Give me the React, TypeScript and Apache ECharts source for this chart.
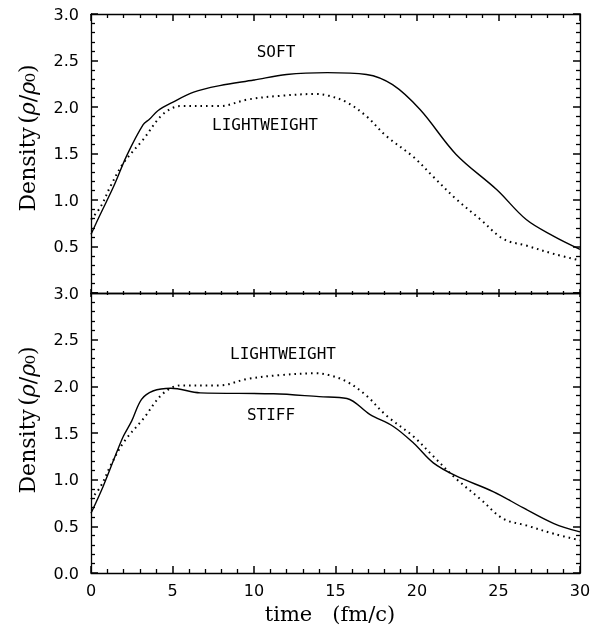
import React, { useEffect, useRef } from "react";
import * as echarts from "echarts";

// SOFT (top panel, solid)
const softTime = [0, 0.5, 1.4, 2.2, 3.2, 3.6, 4.1, 5.0, 6.3, 7.9, 10, 12, 14.5, 16.9, 18.5, 20.2, 22.4, 24.9, 26.7, 28.4, 30];
const softDensity = [0.63, 0.82, 1.15, 1.48, 1.81, 1.87, 1.96, 2.05, 2.16, 2.23, 2.29, 2.35, 2.37, 2.35, 2.24, 1.97, 1.49, 1.11, 0.79, 0.61, 0.47];

// LIGHTWEIGHT (both panels, dotted)
const lightTime = [0, 0.6, 1.2, 2.0, 3.2, 4.4, 5.5, 7.9, 9.6, 11.6, 13.8, 14.6, 15.7, 16.9, 18.1, 19.8, 21.0, 22.4, 23.9, 25.3, 26.7, 28.4, 30];
const lightDensity = [0.79, 0.93, 1.15, 1.4, 1.65, 1.92, 2.01, 2.01, 2.08, 2.12, 2.14, 2.12, 2.05, 1.9, 1.69, 1.46, 1.25, 1.01, 0.79, 0.58, 0.51, 0.42, 0.35];

// STIFF (bottom panel, solid)
const stiffTime = [0, 0.75, 1.57, 2.0, 2.5, 3.1, 3.8, 4.9, 6.7, 11.2, 14.0, 15.7, 17.1, 18.55, 19.8, 21.0, 22.4, 24.7, 26.5, 28.4, 30];
const stiffDensity = [0.64, 0.93, 1.29, 1.47, 1.63, 1.86, 1.95, 1.98, 1.93, 1.92, 1.89, 1.87, 1.7, 1.57, 1.39, 1.18, 1.04, 0.87, 0.7, 0.53, 0.44];

const xTicks = { min: 0, max: 30, interval: 5 };
const yTicks = { min: 0, max: 3, interval: 0.5 };

const pair = (t: number[], d: number[]) => t.map((v, i) => [v, d[i]]);

const INK = "#000";
const TICK_FONT = "DejaVu Sans";

function xAxisDef(gridIndex: number, position: string, showLabel: boolean, len: number) {
  return {
    type: "value",
    gridIndex,
    position,
    min: xTicks.min,
    max: xTicks.max,
    interval: xTicks.interval,
    axisLine: { show: true, onZero: false, lineStyle: { color: INK, width: 1.3 } },
    axisTick: { show: true, inside: true, length: len, lineStyle: { color: INK, width: 1.5 } },
    minorTick: { show: true, splitNumber: 5, length: Math.round(len / 2), lineStyle: { color: INK, width: 1.3 } },
    splitLine: { show: false },
    axisLabel: {
      show: showLabel,
      margin: 9,
      color: INK,
      fontFamily: TICK_FONT,
      fontSize: 16,
      formatter: (v: number) => String(v),
    },
  };
}

function yAxisDef(gridIndex: number, position: string, showLabel: boolean, hideZero: boolean) {
  return {
    type: "value",
    gridIndex,
    position,
    min: yTicks.min,
    max: yTicks.max,
    interval: yTicks.interval,
    axisLine: { show: true, onZero: false, lineStyle: { color: INK, width: 1.3 } },
    axisTick: { show: true, inside: true, length: 7, lineStyle: { color: INK, width: 1.5 } },
    minorTick: { show: true, splitNumber: 5, length: 4, lineStyle: { color: INK, width: 1.3 } },
    splitLine: { show: false },
    axisLabel: {
      show: showLabel,
      margin: 12,
      color: INK,
      fontFamily: TICK_FONT,
      fontSize: 16,
      formatter: (v: number) => (hideZero && v === 0 ? "" : v.toFixed(1)),
    },
  };
}

const yNameStyle = (y: number) => ({
  type: "text",
  x: 27,
  y,
  rotation: Math.PI / 2,
  style: {
    text: "{n|Density} {n|(}{i|ρ}{n|/}{i|ρ}{n|₀)}",
    textAlign: "center",
    textVerticalAlign: "middle",
    fill: INK,
    rich: {
      n: { fontFamily: "DejaVu Serif", fontSize: 22, fill: INK },
      i: { fontFamily: "DejaVu Serif", fontSize: 22, fontStyle: "italic", fill: INK },
    },
  },
});

const annot = (text: string, x: number, y: number) => ({
  type: "text",
  x,
  y,
  style: {
    text,
    textAlign: "center",
    textVerticalAlign: "middle",
    fill: INK,
    font: "16px 'DejaVu Sans Mono'",
  },
});

export default function App() {
  const ref = useRef<HTMLDivElement>(null);

  useEffect(() => {
    if (!ref.current) return;
    const chart = echarts.init(ref.current, null, { renderer: "svg" });
    const solid = { color: INK, width: 1.4 };
    const dotted = { color: INK, width: 2, type: [1.6, 4] };
    chart.setOption({
      animation: false,
      grid: [
        { left: 91, top: 14, width: 489, height: 279 },
        { left: 91, top: 293, width: 489, height: 280 },
      ],
      xAxis: [
        xAxisDef(0, "bottom", false, 4),
        xAxisDef(0, "top", false, 7),
        xAxisDef(1, "bottom", true, 7),
        xAxisDef(1, "top", false, 4),
      ],
      yAxis: [
        yAxisDef(0, "left", true, true),
        yAxisDef(0, "right", false, false),
        yAxisDef(1, "left", true, false),
        yAxisDef(1, "right", false, false),
      ],
      series: [
        {
          name: "SOFT",
          type: "line",
          xAxisIndex: 0,
          yAxisIndex: 0,
          data: pair(softTime, softDensity),
          smooth: 0.35,
          showSymbol: false,
          lineStyle: solid,
        },
        {
          name: "LIGHTWEIGHT",
          type: "line",
          xAxisIndex: 0,
          yAxisIndex: 0,
          data: pair(lightTime, lightDensity),
          smooth: 0.35,
          showSymbol: false,
          lineStyle: dotted,
        },
        {
          name: "STIFF",
          type: "line",
          xAxisIndex: 2,
          yAxisIndex: 2,
          data: pair(stiffTime, stiffDensity),
          smooth: 0.35,
          showSymbol: false,
          lineStyle: solid,
        },
        {
          name: "LIGHTWEIGHT ",
          type: "line",
          xAxisIndex: 2,
          yAxisIndex: 2,
          data: pair(lightTime, lightDensity),
          smooth: 0.35,
          showSymbol: false,
          lineStyle: dotted,
        },
      ],
      graphic: [
        yNameStyle(138),
        yNameStyle(420),
        {
          type: "text",
          x: 330,
          y: 614,
          style: {
            text: "time   (fm/c)",
            textAlign: "center",
            textVerticalAlign: "middle",
            fill: INK,
            font: "21px 'DejaVu Serif'",
          },
        },
        annot("SOFT", 276, 51),
        annot("LIGHTWEIGHT", 265, 124),
        annot("LIGHTWEIGHT", 283, 353),
        annot("STIFF", 271, 414),
      ],
    });
    return () => chart.dispose();
  }, []);

  return <div ref={ref} style={{ position: "fixed", left: 0, top: 0, width: 610, height: 625 }} />;
}
